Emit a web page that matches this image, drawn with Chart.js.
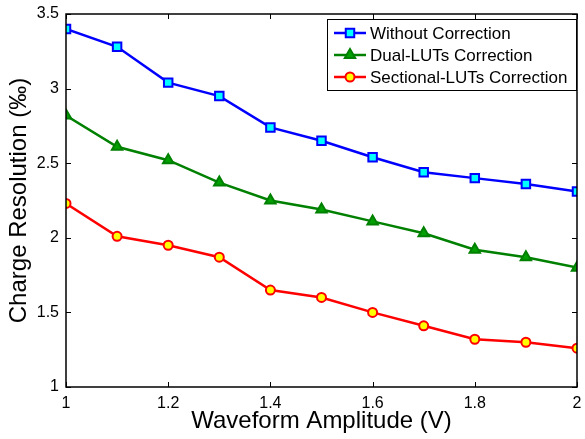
<!DOCTYPE html>
<html>
<head>
<meta charset="utf-8">
<script src="https://cdn.jsdelivr.net/npm/chart.js@4/dist/chart.umd.min.js"></script>
<style>
html,body{margin:0;padding:0;background:#fff;}
#wrap{width:585px;height:439px;}
</style>
</head>
<body>
<div id="wrap"><canvas id="c" width="585" height="439"></canvas></div>
<script>
const amplitudes = [1.0, 1.1, 1.2, 1.3, 1.4, 1.5, 1.6, 1.7, 1.8, 1.9, 2.0];
const withoutCorrection = [3.40, 3.28, 3.04, 2.95, 2.74, 2.65, 2.54, 2.44, 2.40, 2.36, 2.31];
const dualLUTs = [2.82, 2.61, 2.52, 2.37, 2.25, 2.19, 2.11, 2.03, 1.92, 1.87, 1.80];
const sectionalLUTs = [2.23, 2.01, 1.95, 1.87, 1.65, 1.60, 1.50, 1.41, 1.32, 1.30, 1.26];
const seriesNames = ['Without Correction', 'Dual-LUTs Correction', 'Sectional-LUTs Correction'];
const xTicks = [1, 1.2, 1.4, 1.6, 1.8, 2];
const xTickLabels = ['1', '1.2', '1.4', '1.6', '1.8', '2'];
const yTicks = [1, 1.5, 2, 2.5, 3, 3.5];
const yTickLabels = ['1', '1.5', '2', '2.5', '3', '3.5'];

const FONT = 'Arial, "Liberation Sans", Helvetica, sans-serif';

function pts(vals){ return amplitudes.map((x,i)=>({x:x, y:vals[i]})); }

const datasets = [
  {label: seriesNames[0], data: pts(withoutCorrection), borderColor:'#0000ff', backgroundColor:'#00ffff',
   pointStyle:'rect', pointRadius:6, pointBorderWidth:2, pointBorderColor:'#0000ff', pointBackgroundColor:'#00ffff', borderWidth:2.5},
  {label: seriesNames[1], data: pts(dualLUTs), borderColor:'#008000', backgroundColor:'#008000',
   pointStyle:'triangle', pointRadius:6, pointBorderWidth:2, pointBorderColor:'#008000', pointBackgroundColor:'#00a000', borderWidth:2.5},
  {label: seriesNames[2], data: pts(sectionalLUTs), borderColor:'#ff0000', backgroundColor:'#ffff00',
   pointStyle:'circle', pointRadius:4.5, pointBorderWidth:2, pointBorderColor:'#ff0000', pointBackgroundColor:'#ffff00', borderWidth:2.5}
];

const boxPlugin = {
  id:'box',
  afterDraw(chart){
    const ctx = chart.ctx, a = chart.chartArea;
    const xs = chart.scales.x, ys = chart.scales.y;
    ctx.save();
    ctx.strokeStyle = '#000';
    ctx.lineWidth = 1;
    const tl = 5;
    ctx.beginPath();
    xTicks.forEach(v=>{
      const px = Math.round(xs.getPixelForValue(v)) + 0.5;
      ctx.moveTo(px, a.bottom); ctx.lineTo(px, a.bottom - tl);
      ctx.moveTo(px, a.top); ctx.lineTo(px, a.top + tl);
    });
    yTicks.forEach(v=>{
      const py = Math.round(ys.getPixelForValue(v)) + 0.5;
      ctx.moveTo(a.left, py); ctx.lineTo(a.left + tl, py);
      ctx.moveTo(a.right, py); ctx.lineTo(a.right - tl, py);
    });
    ctx.stroke();
    ctx.lineWidth = 1.5;
    ctx.strokeRect(a.left, a.top, a.right - a.left, a.bottom - a.top);
    // legend
    const lx = 327, ly = 19, lw = 249, lh = 71;
    ctx.fillStyle = '#fff';
    ctx.fillRect(lx, ly, lw, lh);
    ctx.lineWidth = 1;
    ctx.strokeStyle = '#000';
    ctx.strokeRect(lx + 0.5, ly + 0.5, lw, lh);
    ctx.font = '17px ' + FONT;
    ctx.textBaseline = 'middle';
    ctx.textAlign = 'left';
    chart.data.datasets.forEach((ds, i)=>{
      const y = ly + 14 + i * 22;
      ctx.strokeStyle = ds.borderColor;
      ctx.lineWidth = ds.borderWidth;
      ctx.beginPath();
      ctx.moveTo(lx + 7, y); ctx.lineTo(lx + 39, y);
      ctx.stroke();
      ctx.fillStyle = ds.pointBackgroundColor;
      ctx.strokeStyle = ds.pointBorderColor;
      ctx.lineWidth = ds.pointBorderWidth;
      Chart.helpers.drawPoint(ctx, {pointStyle: ds.pointStyle, radius: ds.pointRadius, borderWidth: ds.pointBorderWidth, rotation:0}, lx + 23, y);
      ctx.fillStyle = '#000';
      ctx.fillText(ds.label, lx + 43, y + 1);
    });
    ctx.restore();
  }
};

new Chart(document.getElementById('c'), {
  type:'line',
  data:{datasets: datasets},
  options:{
    responsive:false,
    animation:false,
    layout:{padding:{left:0, right:4, top:14, bottom:0}},
    plugins:{legend:{display:false}, tooltip:{enabled:false}},
    elements:{line:{tension:0}},
    scales:{
      x:{
        type:'linear', min:1, max:2,
        afterBuildTicks(s){ s.ticks = xTicks.map(v=>({value:v})); },
        afterFit(s){ s.height = 52; s.paddingLeft = 0; s.paddingRight = 0; },
        grid:{display:false, drawTicks:false},
        border:{display:false},
        ticks:{color:'#000', font:{size:16, family:FONT}, padding:7, maxRotation:0,
          callback:(v)=>{ const i = xTicks.findIndex(t=>Math.abs(t-v)<1e-9); return i>=0 ? xTickLabels[i] : ''; }},
        title:{display:true, text:'Waveform Amplitude (V)', color:'#000', font:{size:24, family:FONT}, padding:{top:0, bottom:3}}
      },
      y:{
        type:'linear', min:1, max:3.5,
        afterBuildTicks(s){ s.ticks = yTicks.map(v=>({value:v})); },
        afterFit(s){ s.width = 66; s.paddingTop = 0; s.paddingBottom = 0; },
        grid:{display:false, drawTicks:false},
        border:{display:false},
        ticks:{color:'#000', font:{size:16, family:FONT}, padding:7,
          callback:(v)=>{ const i = yTicks.findIndex(t=>Math.abs(t-v)<1e-9); return i>=0 ? yTickLabels[i] : ''; }},
        title:{display:true, text:'Charge Resolution (‰)', color:'#000', font:{size:24, family:FONT}, padding:{top:5, bottom:0}}
      }
    }
  },
  plugins:[boxPlugin]
});
</script>
</body>
</html>
